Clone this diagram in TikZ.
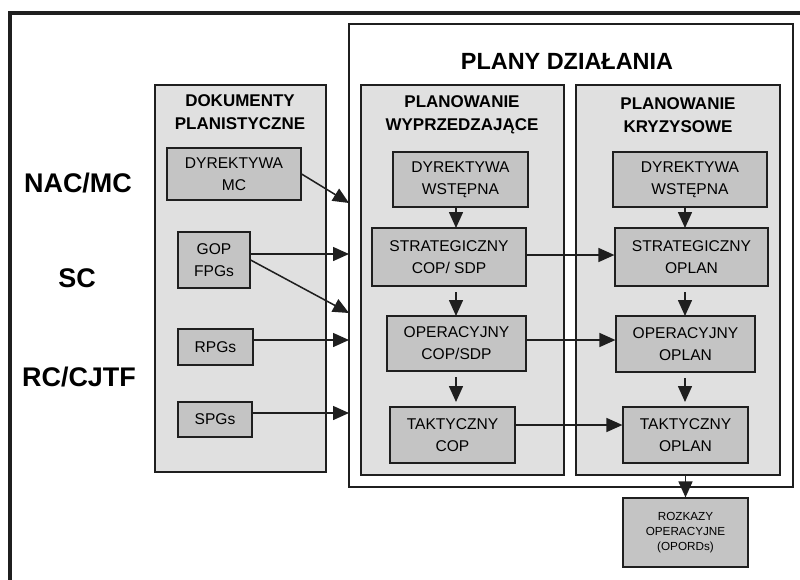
\documentclass[tikz,border=0pt]{standalone}
\usepackage{fontspec}
\setmainfont{Liberation Sans}
\usetikzlibrary{arrows.meta,positioning}
\definecolor{pldark}{gray}{0.12}
\definecolor{plbox}{gray}{0.77}
\definecolor{plpanel}{gray}{0.88}
\tikzset{
  sz/.style 2 args={minimum width=#1*0.03cm,minimum height=#2*0.03cm},
  panel/.style={draw=pldark,fill=plpanel,line width=0.9pt,inner sep=0pt},
  pbox/.style={draw=pldark,fill=plbox,line width=1pt,align=center,inner sep=0pt,font=\fontsize{13.3}{18.7}\selectfont},
  smallbox/.style={pbox,font=\fontsize{10}{12.7}\selectfont},
  ttl/.style={align=center,inner sep=0pt,font=\fontsize{14.5}{20}\selectfont\bfseries},
  side/.style={inner sep=0pt,font=\fontsize{23}{26}\selectfont\bfseries},
  ar/.style={-{Triangle[length=4.8mm,width=4.2mm]},draw=pldark,line width=1.3pt},
}
\begin{document}
\begin{tikzpicture}[x=0.03cm,y=-0.03cm]
  \useasboundingbox (0,0) rectangle (800,580);
  % ramka
  \draw[line width=2.6pt,pldark] (10,580) -- (10,13) -- (800,13);
  % duze ramki
  \node[draw=pldark,fill=white,line width=1pt,sz={444}{463}](plany) at (571,255.5){};
  \node[ttl,font=\fontsize{20}{23}\selectfont\bfseries](planyt) at (567,61){PLANY DZIAŁANIA};
  \node[panel,sz={171}{387}](dok) at (240.5,278.5){};
  \node[panel,sz={203}{390}](wyp) at (462.5,280){};
  \node[panel,sz={204}{390}](kry) at (678,280){};
  \node[ttl](dokt) at (240,112){DOKUMENTY\\PLANISTYCZNE};
  \node[ttl](wypt) at (462,115){PLANOWANIE\\WYPRZEDZAJĄCE};
  \node[ttl](kryt) at (678,115){PLANOWANIE\\KRYZYSOWE};
  % szczeble
  \node[side](nac) at (78,183){NAC/MC};
  \node[side](sc) at (77,278){SC};
  \node[side](rc) at (79,377){RC/CJTF};
  % dokumenty
  \node[pbox,sz={134}{52}](dmc) at (234,174){DYREKTYWA\\MC};
  \node[pbox,sz={72}{56}](gop) at (214,260){GOP\\FPGs};
  \node[pbox,sz={75}{36}](rpg) at (215.5,347){RPGs};
  \node[pbox,sz={74}{35}](spg) at (215,419.5){SPGs};
  % planowanie wyprzedzajace
  \node[pbox,sz={135}{55}](wd) at (460.5,179.5){DYREKTYWA\\WSTĘPNA};
  \node[pbox,sz={154}{58}](ws) at (449,257){STRATEGICZNY\\COP/ SDP};
  \node[pbox,sz={139}{55}](wo) at (456.5,343.5){OPERACYJNY\\COP/SDP};
  \node[pbox,sz={125}{56}](wt) at (452.5,435){TAKTYCZNY\\COP};
  % planowanie kryzysowe
  \node[pbox,sz={154}{55}](kd) at (690,179.5){DYREKTYWA\\WSTĘPNA};
  \node[pbox,sz={153}{58}](ks) at (691.5,257){STRATEGICZNY\\OPLAN};
  \node[pbox,sz={139}{56}](ko) at (685.5,344){OPERACYJNY\\OPLAN};
  \node[pbox,sz={125}{56}](kt) at (685.5,435){TAKTYCZNY\\OPLAN};
  \node[smallbox,sz={125}{69}](roz) at (685.5,532.5){ROZKAZY\\OPERACYJNE\\(OPORDs)};
  % wejscia
  \coordinate (in1) at (349,203);
  \coordinate (in2) at (349,254);
  \coordinate (in3) at (349,313);
  \coordinate (in4) at (349,340);
  \coordinate (in5) at (349,413);
  \draw[ar] (dmc.east) -- (in1);
  \draw[ar] (gop.east |- in2) -- (in2);
  \draw[ar] (gop.east) -- (in3);
  \draw[ar] (rpg.east |- in4) -- (in4);
  \draw[ar] (spg.east |- in5) -- (in5);
  % pionowe
  \draw[ar] (456,207) -- (456,228);
  \draw[ar] (456,292) -- (456,316);
  \draw[ar] (456,377) -- (456,402);
  \draw[ar] (685,207) -- (685,228);
  \draw[ar] (685,292) -- (685,316);
  \draw[ar] (685,378) -- (685,402);
  % poziome
  \draw[ar] (ws.east |- 0,255) -- (ks.west |- 0,255);
  \draw[ar] (wo.east |- 0,340) -- (ko.west |- 0,340);
  \draw[ar] (wt.east |- 0,425) -- (kt.west |- 0,425);
  \draw[ar] (roz.north |- kry.south) -- (roz.north);
\end{tikzpicture}
\end{document}
